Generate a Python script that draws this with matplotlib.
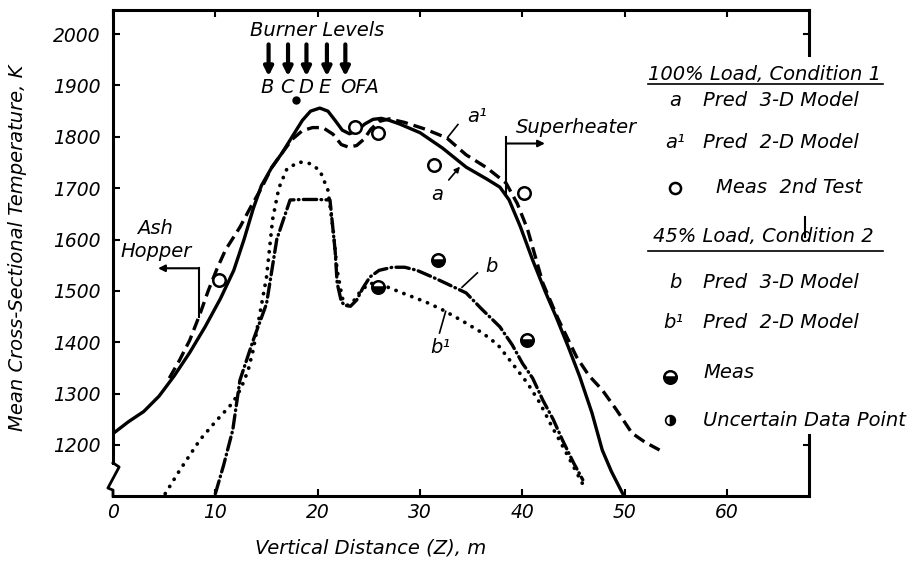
import matplotlib
matplotlib.use("Agg")
import matplotlib.pyplot as plt
from matplotlib.lines import Line2D

plt.rcParams['font.family'] = ['DejaVu Sans']
plt.rcParams['font.style'] = 'italic'

W, H = 912, 564

# 100% load, predicted 3-D model (a)
a_z = [0, 1.5, 3, 4.5, 6, 7.5, 9, 10.5, 11.8, 12.8, 13.7, 14.5, 15.5, 16.5, 17.5, 18.5,
       19.3, 20.2, 21, 21.7, 22.4, 23.1, 23.8, 24.6, 25.4, 26.2, 27, 28, 30, 32.2, 34.5,
       36.5, 37.8, 38.7, 39.8, 41, 42.2, 43.3, 44.5, 45.6, 46.8, 47.8, 48.7, 49.8]
a_t = [1222, 1245, 1265, 1295, 1335, 1380, 1430, 1485, 1540, 1600, 1660, 1705, 1740, 1768,
       1800, 1832, 1850, 1856, 1850, 1832, 1813, 1806, 1811, 1825, 1834, 1836, 1832, 1825,
       1808, 1778, 1741, 1718, 1702, 1677, 1625, 1560, 1500, 1449, 1390, 1333, 1262, 1190,
       1148, 1105]

# 100% load, predicted 2-D model (a1)
a1_z = [5.5, 6.5, 7.5, 8.5, 9.3, 10.2, 11, 12.4, 13.5, 14.5, 15.5, 16.5, 17.5, 18.5, 19.5,
        20.5, 21.5, 22.3, 23, 23.8, 24.5, 25.2, 26, 27, 28.5, 30.5, 32.6, 34.5, 36.5, 38.4,
        39.5, 40.5, 42, 43.5, 45.3, 46.5, 47.8, 49.2, 50.7, 52, 53.4]
a1_t = [1330, 1365, 1404, 1455, 1500, 1545, 1580, 1624, 1665, 1700, 1740, 1768, 1795, 1812,
        1818, 1818, 1805, 1785, 1780, 1783, 1795, 1815, 1830, 1835, 1828, 1815, 1798, 1765,
        1740, 1710, 1670, 1620, 1515, 1445, 1371, 1335, 1307, 1268, 1223, 1205, 1190]

# 45% load, predicted 3-D model (b)
b_z = [10, 10.8, 11.7, 12.4, 13.7, 15, 16, 16.5, 17.3, 18.5, 20, 21.2, 21.7, 21.9, 22.3,
       22.6, 23.2, 23.8, 24.4, 25.1, 26, 27.3, 28.5, 29.7, 31.2, 32.5, 34.5, 36, 37.8, 39,
       40, 41, 42, 43, 43.9, 45, 45.9]
b_t = [1105, 1160, 1229, 1326, 1404, 1475, 1600, 1630, 1677, 1678, 1678, 1677, 1579, 1515,
       1480, 1472, 1470, 1482, 1505, 1527, 1540, 1546, 1546, 1540, 1527, 1515, 1496, 1465,
       1430, 1395, 1359, 1330, 1287, 1250, 1210, 1165, 1132]

# 45% load, predicted 2-D model (b1)
b1_z = [5.1, 6.5, 8.5, 10, 11.7, 12.5, 13.2, 13.7, 14.3, 15, 15.6, 16.2, 17, 18.2, 19.2,
        20.2, 21, 21.5, 21.9, 22.4, 22.9, 23.5, 24.2, 25.1, 26.5, 28, 30.6, 32.2, 34, 36.1,
        37.6, 39, 40.5, 41.7, 42.9, 43.6, 44.8, 46.2]
b1_t = [1105, 1150, 1210, 1245, 1282, 1310, 1345, 1385, 1450, 1527, 1640, 1700, 1738, 1751,
        1748, 1735, 1696, 1620, 1540, 1486, 1472, 1480, 1500, 1515, 1510, 1498, 1478, 1463,
        1443, 1418, 1395, 1359, 1320, 1282, 1235, 1210, 1165, 1112]

# measurements
meas1_z = [10.4, 23.6, 25.9, 31.4, 40.2]
meas1_t = [1521, 1819, 1807, 1745, 1690]
meas2_z = [25.9, 31.8, 40.4]
meas2_t = [1508, 1560, 1404]
unc_z = [17.9]
unc_t = [1871]

burner_z = [15.2, 17.1, 18.9, 20.9, 22.7]
burner_lab = ['B', 'C', 'D', 'E', 'OFA']
burner_lab_z = [15.1, 17.0, 18.9, 20.7, 24.1]

xticks = [0, 10, 20, 30, 40, 50, 60]
yticks = [1200, 1300, 1400, 1500, 1600, 1700, 1800, 1900, 2000]


def fx(px):
    return px / W


def fy(py):
    return 1 - py / H


fig = plt.figure(figsize=(W / 100, H / 100), dpi=100)
ax = fig.add_axes([fx(113), fy(496), (809 - 113) / W, (496 - 10) / H])
ax.set_xlim(0, 68)
ax.set_ylim(1100.5, 2047)

lw = 2.4
ax.plot(a_z, a_t, color='black', lw=lw, solid_capstyle='round', solid_joinstyle='round')
ax.plot(a1_z, a1_t, color='black', lw=lw, dashes=[3.6, 1.8])
ax.plot(b_z, b_t, color='black', lw=lw, linestyle=(0, (4, 1.3, 0.2, 1.3)),
        dash_capstyle='round')
ax.plot(b1_z, b1_t, color='black', lw=2.7, linestyle=(0, (0.05, 2.2)),
        dash_capstyle='round')

ax.plot(meas1_z, meas1_t, 'o', ms=9, mfc='white', mec='black', mew=1.8, clip_on=False)
ax.plot(meas2_z, meas2_t, 'o', ms=9, mfc='black', mec='black', mew=1.8,
        fillstyle='bottom', markerfacecoloralt='white', clip_on=False)
ax.plot(unc_z, unc_t, 'o', ms=5, color='black')

# burner levels
ax.text(19.9, 2007, 'Burner Levels', ha='center', va='center', fontsize=14)
for z in burner_z:
    ax.annotate('', xy=(z, 1918), xytext=(z, 1980),
                arrowprops=dict(arrowstyle='-|>', lw=3, color='black',
                                mutation_scale=13, shrinkA=0, shrinkB=0))
for z, lab in zip(burner_lab_z, burner_lab):
    ax.text(z, 1897, lab, ha='center', va='center', fontsize=14)

# ash hopper
ax.text(4.1, 1622, 'Ash', ha='center', va='center', fontsize=14)
ax.text(4.2, 1577, 'Hopper', ha='center', va='center', fontsize=14)
ax.plot([8.4, 8.4], [1544, 1449], color='black', lw=1.5)
ax.annotate('', xy=(4.4, 1544), xytext=(8.4, 1544),
            arrowprops=dict(arrowstyle='-|>', lw=1.5, color='black',
                            mutation_scale=10, shrinkA=0, shrinkB=0))

# superheater
ax.text(39.4, 1818, 'Superheater', ha='left', va='center', fontsize=14)
ax.plot([38.4, 38.4], [1690, 1800], color='black', lw=1.5)
ax.annotate('', xy=(42.2, 1787), xytext=(38.4, 1787),
            arrowprops=dict(arrowstyle='-|>', lw=1.5, color='black',
                            mutation_scale=10, shrinkA=0, shrinkB=0))

# curve labels with leaders
ax.text(34.6, 1840, 'a¹', ha='left', va='center', fontsize=14)
ax.plot([32.7, 33.7], [1799, 1824], color='black', lw=1.2)
ax.text(31.7, 1688, 'a', ha='center', va='center', fontsize=14)
ax.annotate('', xy=(33.9, 1742), xytext=(32.8, 1716),
            arrowprops=dict(arrowstyle='-|>', lw=1.2, color='black',
                            mutation_scale=8, shrinkA=0, shrinkB=0))
ax.text(37.0, 1548, 'b', ha='center', va='center', fontsize=14)
ax.plot([34.1, 35.6], [1507, 1535], color='black', lw=1.2)
ax.text(32.0, 1390, 'b¹', ha='center', va='center', fontsize=14)
ax.plot([31.9, 32.5], [1418, 1460], color='black', lw=1.2)

# axes frame
ax.spines['right'].set_visible(False)
for s in ['left', 'top', 'bottom']:
    ax.spines[s].set_linewidth(2.2)
ax.spines['left'].set_bounds(1165, 2047)
ax.plot([0, 0.6, -0.5, 0, 0], [1165, 1157, 1116, 1112, 1100.5], color='black',
        lw=2.0, clip_on=False)
ax.plot([68, 68], [1959, 2047], color='black', lw=2.2, clip_on=False)
ax.plot([67.6, 67.6], [1605, 1643], color='black', lw=1.5, clip_on=False)
ax.plot([68, 68], [1100.5, 1219], color='black', lw=2.2, clip_on=False)
ax.plot([67.5, 68], [2000, 2000], color='black', lw=1.5, clip_on=False)
ax.plot([67.5, 68], [1200, 1200], color='black', lw=1.5, clip_on=False)

ax.set_xticks(xticks)
ax.set_yticks(yticks)
ax.tick_params(direction='in', length=5, width=1.5, top=True, labelsize=13.5, pad=5)
ax.tick_params(axis='y', pad=9)

fig.text(fx(18), fy(248), 'Mean Cross-Sectional Temperature, K', rotation=90,
         ha='center', va='center', fontsize=14)
fig.text(fx(371), fy(548), 'Vertical Distance (Z), m', ha='center', va='center',
         fontsize=14)

# legend block on the right
fig.text(fx(648), fy(74), '100% Load, Condition 1', ha='left', va='center', fontsize=14)
fig.add_artist(Line2D([fx(648), fx(883)], [fy(84), fy(84)], color='black', lw=1.2))
fig.text(fx(675), fy(100), 'a', ha='center', va='center', fontsize=14)
fig.text(fx(703), fy(100), 'Pred  3-D Model', ha='left', va='center', fontsize=14)
fig.text(fx(675), fy(143), 'a¹', ha='center', va='center', fontsize=14)
fig.text(fx(703), fy(143), 'Pred  2-D Model', ha='left', va='center', fontsize=14)
fig.add_artist(Line2D([fx(675)], [fy(188)], marker='o', ms=8, mfc='white',
                      mec='black', mew=1.8))
fig.text(fx(716), fy(188), 'Meas  2nd Test', ha='left', va='center', fontsize=14)
fig.text(fx(653), fy(237), '45% Load, Condition 2', ha='left', va='center', fontsize=14)
fig.add_artist(Line2D([fx(648), fx(883)], [fy(251), fy(251)], color='black', lw=1.2))
fig.text(fx(675), fy(282), 'b', ha='center', va='center', fontsize=14)
fig.text(fx(703), fy(282), 'Pred  3-D Model', ha='left', va='center', fontsize=14)
fig.text(fx(673), fy(323), 'b¹', ha='center', va='center', fontsize=14)
fig.text(fx(703), fy(323), 'Pred  2-D Model', ha='left', va='center', fontsize=14)
fig.add_artist(Line2D([fx(670)], [fy(377)], marker='o', ms=9, mfc='black',
                      mec='black', mew=1.8, fillstyle='bottom',
                      markerfacecoloralt='white'))
fig.text(fx(703), fy(373), 'Meas', ha='left', va='center', fontsize=14)
fig.add_artist(Line2D([fx(670)], [fy(420)], marker='o', ms=7, mfc='black',
                      mec='black', mew=1.2, fillstyle='right',
                      markerfacecoloralt='white', linestyle='none'))
fig.text(fx(703), fy(420), 'Uncertain Data Point', ha='left', va='center', fontsize=14)

fig.savefig('out.png', dpi=100)
